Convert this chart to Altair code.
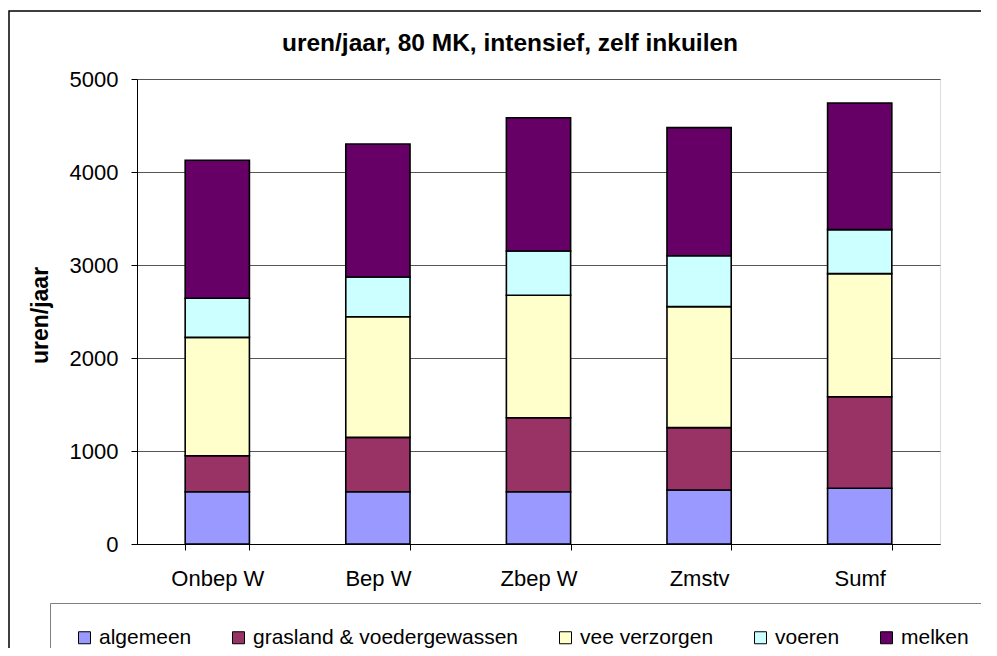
import altair as alt
import pandas as pd

categories = ["Onbep W", "Bep W", "Zbep W", "Zmstv", "Sumf"]
series = ["algemeen", "grasland & voedergewassen", "vee verzorgen", "voeren", "melken"]
algemeen = [562, 562, 562, 581, 599]
grasland = [387, 585, 796, 670, 985]
vee_verzorgen = [1273, 1297, 1316, 1301, 1323]
voeren = [420, 427, 477, 548, 473]
melken = [1484, 1430, 1433, 1377, 1362]
colors = ["#9999FF", "#993366", "#FFFFCC", "#CCFFFF", "#660066"]
y_ticks = [0, 1000, 2000, 3000, 4000, 5000]
title_text = "uren/jaar, 80 MK, intensief, zelf inkuilen"

rows = []
for si, (name, vals) in enumerate(zip(series, [algemeen, grasland, vee_verzorgen, voeren, melken])):
    for c, v in zip(categories, vals):
        rows.append({"cat": c, "serie": name, "uren": v, "idx": si})
df = pd.DataFrame(rows)

FONT = "Liberation Sans"

bars = alt.Chart(df).mark_bar(stroke="black", strokeWidth=1.6).encode(
    x=alt.X(
        "cat:N",
        sort=categories,
        scale=alt.Scale(paddingInner=0.6, paddingOuter=0.3),
        axis=alt.Axis(
            title=None, labelAngle=0, labelFontSize=22, labelFont=FONT, labelColor="black",
            labelBaseline="alphabetic", labelPadding=35, tickSize=6, tickColor="black",
            tickBand="extent", domainColor="black", domainWidth=1, grid=False,
        ),
    ),
    y=alt.Y(
        "uren:Q",
        stack="zero",
        scale=alt.Scale(domain=[0, 5000], nice=False),
        axis=alt.Axis(
            values=y_ticks, format="d", title="uren/jaar", titleFontSize=23, titleFont=FONT,
            titleFontWeight="bold", titleColor="black", titleX=-90, titleY=236,
            titleAngle=270, titleAlign="center", titleBaseline="alphabetic",
            labelFontSize=22, labelFont=FONT, labelColor="black", labelPadding=13,
            tickSize=6, tickColor="black", domainColor="black",
            gridColor="#555555", gridWidth=1,
        ),
    ),
    color=alt.Color(
        "serie:N",
        scale=alt.Scale(domain=series, range=colors),
        legend=alt.Legend(
            title=None, orient="none", legendX=-87, legendY=524, direction="horizontal",
            symbolType="square", symbolSize=144, symbolStrokeColor="black",
            symbolStrokeWidth=1, symbolOpacity=1, labelFontSize=21, labelFont=FONT,
            labelColor="black", labelLimit=400, columnPadding=36, labelOffset=4,
            padding=24, strokeColor="#808080", fillColor="white",
        ),
    ),
    order=alt.Order("idx:Q", sort="ascending"),
)

frame = alt.Chart(pd.DataFrame({"f": [0]})).mark_rect(
    fill="white", fillOpacity=0, stroke="black", strokeWidth=1.5
).encode(
    x=alt.value(-128), x2=alt.value(2000), y=alt.value(-68), y2=alt.value(2000)
)

title = alt.Chart(pd.DataFrame({"t": [title_text]})).mark_text(
    font=FONT, fontSize=24.5, fontWeight="bold", color="black",
    align="center", baseline="alphabetic",
).encode(
    text="t:N", x=alt.value(373), y=alt.value(-28)
)

chart = alt.layer(frame, bars, title).properties(
    width=803,
    height=465,
    autosize="none",
    padding={"left": 129, "top": 71, "right": 41, "bottom": 104},
).configure_view(stroke="#808080", strokeWidth=2).configure(background="white")

chart.save("out.html", embed_options={"renderer": "svg", "actions": False})
